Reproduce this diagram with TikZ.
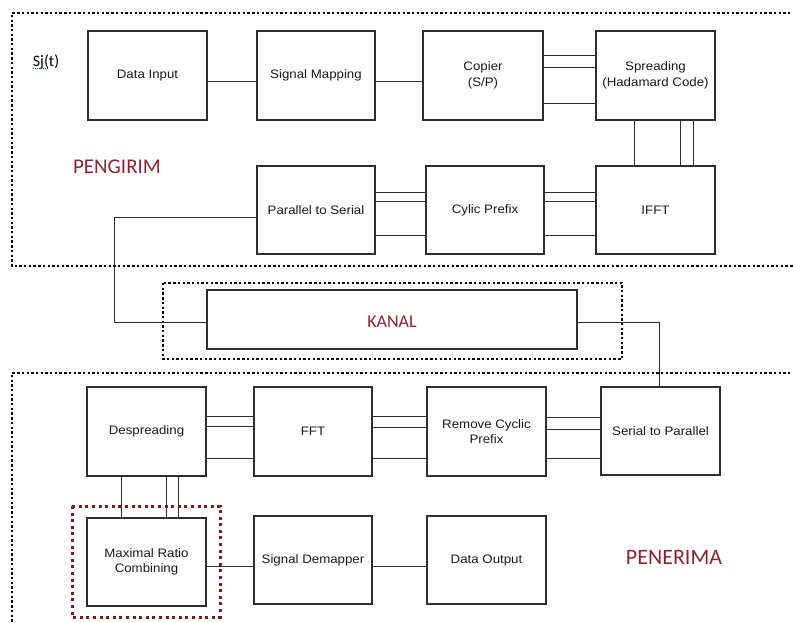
\documentclass[tikz,border=0pt]{standalone}
\usepackage{fontspec}
\newfontfamily\boxfont[FakeStretch=1.08]{Liberation Sans}
\newfontfamily\lblfont{Carlito}
\definecolor{boxline}{HTML}{2E2E2E}
\definecolor{lblred}{HTML}{8A2433}
\definecolor{frameRed}{HTML}{6E1F22}
\tikzset{
  blk/.style={draw=boxline, line width=1.8pt, rectangle, inner sep=0pt, outer sep=0pt,
    align=center, font=\boxfont\fontsize{12.3}{15.5}\selectfont, text=black!90},
  conn/.style={draw=boxline, line width=1pt},
  dotframe/.style={draw=black, line width=2.4pt, dash pattern=on 2.4pt off 2.3pt},
  redframe/.style={draw=frameRed, line width=3pt, dash pattern=on 3pt off 3.6pt},
  redlbl/.style={text=lblred, font=\lblfont\fontsize{21}{24}\selectfont, inner sep=0pt}
}
\begin{document}
\begin{tikzpicture}[x=1pt,y=-1pt]
\useasboundingbox (0,0) rectangle (793,623);
\fill[white] (0,0) rectangle (793,623);

% frames
\draw[dotframe] (795,13) -- (12,13) -- (12,266) -- (795,266);
\draw[dotframe] (163,283) rectangle (622,359);
\draw[dotframe] (795,373) -- (12,373) -- (12,625);

% transmitter
\node[blk, minimum width=119pt, minimum height=89pt] (di) at (147.5,75.5) {Data Input};
\node[blk, minimum width=118pt, minimum height=89pt] (sm) at (316,75.5) {Signal Mapping};
\node[blk, minimum width=120pt, minimum height=89pt] (cp) at (483,75.5) {Copier\\(S/P)};
\node[blk, minimum width=119pt, minimum height=89pt] (sp) at (655.5,75.5) {Spreading\\(Hadamard Code)};
\node[blk, minimum width=118pt, minimum height=88pt] (ps) at (316,210) {Parallel to Serial};
\node[blk, minimum width=118pt, minimum height=88pt] (cy) at (485,210) {Cylic Prefix};
\node[blk, minimum width=119pt, minimum height=88pt] (ifft) at (655.5,210) {IFFT};

% channel
\node[blk, minimum width=370pt, minimum height=59pt] (kanal) at (392,319.5) {};
\node[redlbl, font=\lblfont\fontsize{18}{20}\selectfont] (kanaltxt) at (392,322) {KANAL};

% receiver
\node[blk, minimum width=119pt, minimum height=89pt] (ds) at (146.5,431.5) {Despreading};
\node[blk, minimum width=118pt, minimum height=89pt] (fft) at (313,431.5) {FFT};
\node[blk, minimum width=119pt, minimum height=89pt] (rcp) at (486.5,431.5) {Remove Cyclic\\Prefix};
\node[blk, minimum width=119pt, minimum height=88pt] (s2p) at (660.5,431) {Serial to Parallel};
\node[blk, minimum width=119pt, minimum height=88pt] (mrc) at (146.5,562) {Maximal Ratio\\Combining};
\node[blk, minimum width=118pt, minimum height=88pt] (sd) at (313,560) {Signal Demapper};
\node[blk, minimum width=119pt, minimum height=88pt] (do) at (486.5,560) {Data Output};

\draw[redframe] (72,506) rectangle (220,617);

% labels
\node[redlbl] (peng) at (117,167) {PENGIRIM};
\node[redlbl, font=\lblfont\fontsize{22}{24}\selectfont] (pene) at (674,557) {PENERIMA};
\node[inner sep=0pt, font=\lblfont\fontsize{16}{18}\selectfont] (sj) at (46,62) {Sj(t)};
\draw[green!45!black, line width=0.6pt, dash pattern=on 1pt off 1pt] ([yshift=1.5pt]sj.south west) -- ([yshift=1.5pt,xshift=-12pt]sj.south east);

% transmitter connectors
\draw[conn] (di.east |- 0,82) -- (sm.west |- 0,82);
\draw[conn] (sm.east |- 0,82) -- (cp.west |- 0,82);
\foreach \yy in {56,68,104} \draw[conn] (cp.east |- 0,\yy) -- (sp.west |- 0,\yy);
\foreach \xx in {634,680,693} \draw[conn] (sp.south -| \xx,0) -- (ifft.north -| \xx,0);
\foreach \yy in {193,202,235} \draw[conn] (ifft.west |- 0,\yy) -- (cy.east |- 0,\yy);
\foreach \yy in {193,202,235} \draw[conn] (cy.west |- 0,\yy) -- (ps.east |- 0,\yy);
\draw[conn] (ps.west |- 0,217) -| (114,322) -- (kanal.west |- 0,322);
\draw[conn] (kanal.east |- 0,322) -| (s2p.north -| 659,0);

% receiver connectors
\foreach \yy in {417,429,458} \draw[conn] (s2p.west |- 0,\yy) -- (rcp.east |- 0,\yy);
\foreach \yy in {416,427,458} \draw[conn] (rcp.west |- 0,\yy) -- (fft.east |- 0,\yy);
\foreach \yy in {416,426,458} \draw[conn] (fft.west |- 0,\yy) -- (ds.east |- 0,\yy);
\foreach \xx in {121,166,178} \draw[conn] (ds.south -| \xx,0) -- (mrc.north -| \xx,0);
\draw[conn] (mrc.east |- 0,566) -- (sd.west |- 0,566);
\draw[conn] (sd.east |- 0,566) -- (do.west |- 0,566);
\end{tikzpicture}
\end{document}
